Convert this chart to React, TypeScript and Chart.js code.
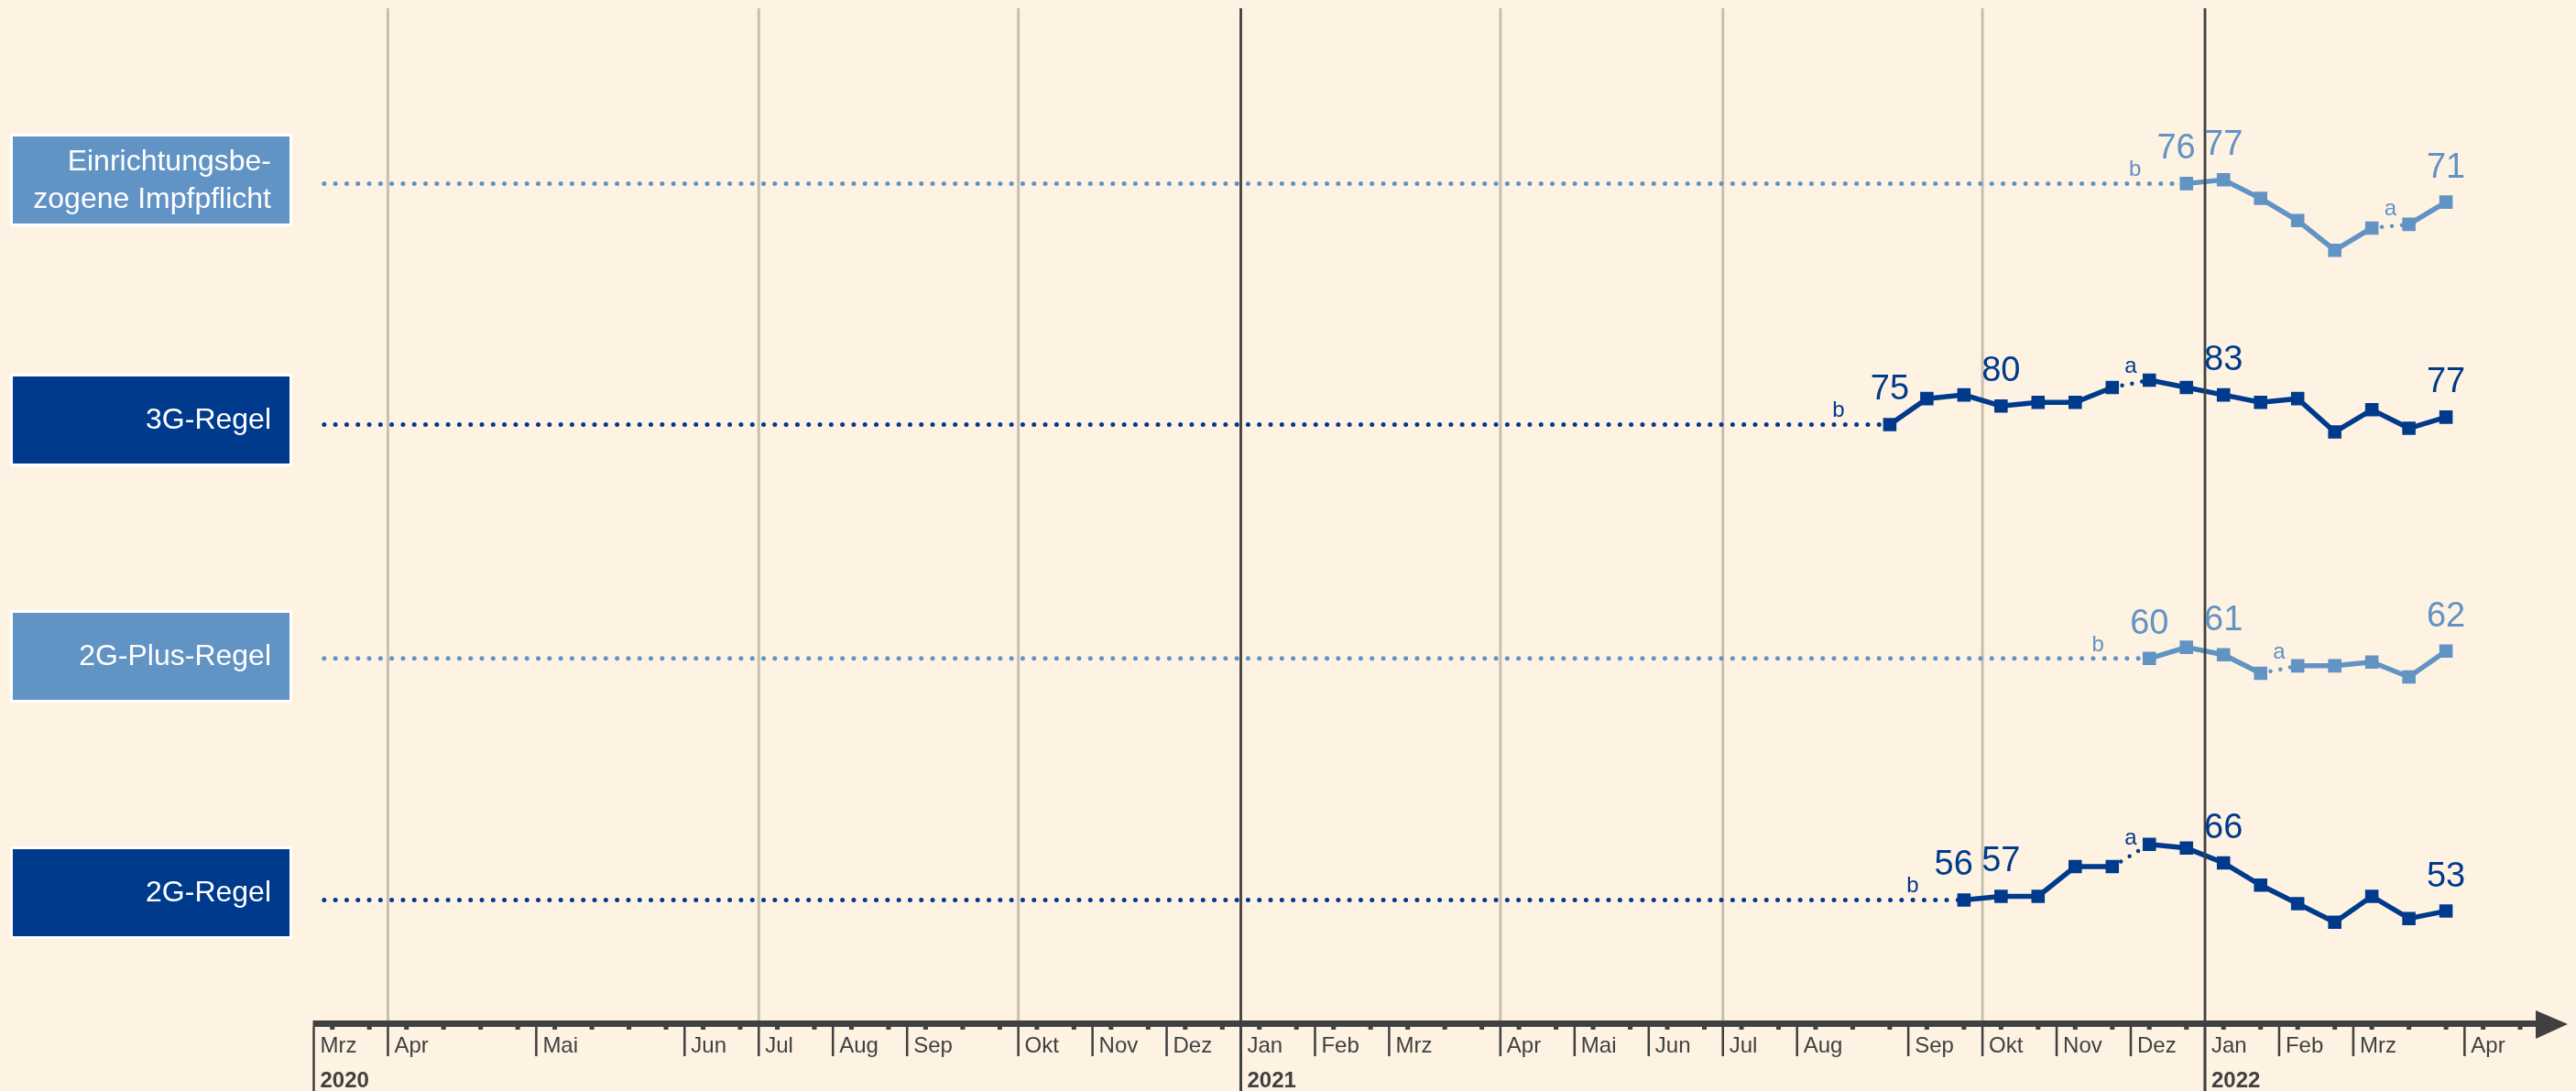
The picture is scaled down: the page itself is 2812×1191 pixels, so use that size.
import React, { useEffect, useRef } from 'react';
import { Chart, registerables } from 'chart.js';

Chart.register(...registerables);

// ---------- data ----------
const monthStarts = [0, 2, 6, 10, 12, 14, 16, 19, 21, 23, 25, 27, 29, 32, 34, 36, 38, 40, 43, 45, 47, 49, 51, 53, 55, 58];
const monthLabels = ['Mrz', 'Apr', 'Mai', 'Jun', 'Jul', 'Aug', 'Sep', 'Okt', 'Nov', 'Dez', 'Jan', 'Feb', 'Mrz', 'Apr', 'Mai', 'Jun', 'Jul', 'Aug', 'Sep', 'Okt', 'Nov', 'Dez', 'Jan', 'Feb', 'Mrz', 'Apr'];
const yearStarts = [0, 25, 51];
const yearLabels = ['2020', '2021', '2022'];
const quarterLines = [2, 12, 19, 32, 38, 45];
const yearLines = [25, 51];

const rowNames = [['Einrichtungsbe-', 'zogene Impfpflicht'], ['3G-Regel'], ['2G-Plus-Regel'], ['2G-Regel']];

const einrichtungWaves = [50.5, 51.5, 52.5, 53.5, 54.5, 55.5, 56.5, 57.5];
const einrichtungValues = [76, 77, 72, 66, 58, 64, 65, 71];
const einrichtungGap = 5;
const einrichtungLabeled = [0, 1, 7];

const regel3GWaves = [42.5, 43.5, 44.5, 45.5, 46.5, 47.5, 48.5, 49.5, 50.5, 51.5, 52.5, 53.5, 54.5, 55.5, 56.5, 57.5];
const regel3GValues = [75, 82, 83, 80, 81, 81, 85, 87, 85, 83, 81, 82, 73, 79, 74, 77];
const regel3GGap = 6;
const regel3GLabeled = [0, 3, 9, 15];

const plus2GWaves = [49.5, 50.5, 51.5, 52.5, 53.5, 54.5, 55.5, 56.5, 57.5];
const plus2GValues = [60, 63, 61, 56, 58, 58, 59, 55, 62];
const plus2GGap = 3;
const plus2GLabeled = [0, 2, 8];

const regel2GWaves = [44.5, 45.5, 46.5, 47.5, 48.5, 49.5, 50.5, 51.5, 52.5, 53.5, 54.5, 55.5, 56.5, 57.5];
const regel2GValues = [56, 57, 57, 65, 65, 71, 70, 66, 60, 55, 50, 57, 51, 53];
const regel2GGap = 4;
const regel2GLabeled = [0, 1, 7, 13];

const leadStart = 0.28;
const gapNote = 'a';
const leadNote = 'b';

// ---------- style / layout ----------
const W = 2812;
const H = 1191;
const BG = '#FEF3E2';
const DARK = '#003A8C';
const LIGHT = '#6193C4';
const AXIS = '#404040';
const GRID = '#C9BFAE';
const FONT = "'Liberation Sans', Arial, sans-serif";

const AREA_LEFT = 342.5;
const PX_PER_UNIT = 40.48;
const X_MAX = 60;
const AREA_TOP = 9;
const AXIS_TOP = 1114;
const AXIS_H = 7;
const PX_PER_PT = 4.05;
const rowAnchorPx = [199.3, 462.7, 718.3, 982.3];
const boxTops = [149, 411, 669, 927];
const BOX_H = 95;
const BOX_X = 14;
const BOX_W = 302;

const series = [
  { x: einrichtungWaves, v: einrichtungValues, gap: einrichtungGap, labeled: einrichtungLabeled, color: LIGHT },
  { x: regel3GWaves, v: regel3GValues, gap: regel3GGap, labeled: regel3GLabeled, color: DARK },
  { x: plus2GWaves, v: plus2GValues, gap: plus2GGap, labeled: plus2GLabeled, color: LIGHT },
  { x: regel2GWaves, v: regel2GValues, gap: regel2GGap, labeled: regel2GLabeled, color: DARK },
];

const decorPlugin = {
  id: 'decor',
  beforeDraw(chart: any) {
    const ctx = chart.ctx;
    ctx.save();
    ctx.fillStyle = BG;
    ctx.fillRect(0, 0, chart.width, chart.height);
    ctx.restore();
  },
  beforeDatasetsDraw(chart: any) {
    const ctx = chart.ctx;
    const xs = chart.scales.x;
    ctx.save();
    ctx.fillStyle = GRID;
    quarterLines.forEach((q) => {
      const px = xs.getPixelForValue(q);
      ctx.fillRect(px - 1.5, AREA_TOP, 3, AXIS_TOP - AREA_TOP);
    });
    rowNames.forEach((lines, r) => {
      const top = boxTops[r];
      ctx.fillStyle = series[r].color;
      ctx.fillRect(BOX_X, top, BOX_W, BOX_H);
      ctx.strokeStyle = '#FFFFFF';
      ctx.lineWidth = 3;
      ctx.strokeRect(BOX_X - 1.5, top - 1.5, BOX_W + 3, BOX_H + 3);
      ctx.fillStyle = '#FFFFFF';
      ctx.font = `32px ${FONT}`;
      ctx.textAlign = 'right';
      ctx.textBaseline = 'middle';
      const cy = top + BOX_H / 2 + 1;
      const lh = 41;
      lines.forEach((t, i) => {
        ctx.fillText(t, BOX_X + 282, cy + (i - (lines.length - 1) / 2) * lh);
      });
    });
    ctx.restore();
  },
  afterDatasetsDraw(chart: any) {
    const ctx = chart.ctx;
    const xs = chart.scales.x;
    ctx.save();
    ctx.fillStyle = AXIS;
    yearLines.forEach((y) => {
      const px = xs.getPixelForValue(y);
      ctx.fillRect(px - 1.4, AREA_TOP, 2.8, H - AREA_TOP);
    });
    const x0 = xs.getPixelForValue(0);
    ctx.fillRect(x0 - 1, AXIS_TOP, 2770 - x0, AXIS_H);
    ctx.beginPath();
    ctx.moveTo(2768, 1103);
    ctx.lineTo(2803, 1118);
    ctx.lineTo(2768, 1134);
    ctx.closePath();
    ctx.fill();
    for (let k = 0; k < 60; k++) {
      const px = xs.getPixelForValue(k + 0.5);
      ctx.fillRect(px - 2.5, AXIS_TOP + AXIS_H, 5, 3);
    }
    monthStarts.forEach((m) => {
      const px = xs.getPixelForValue(m);
      const isYear = yearStarts.includes(m);
      ctx.fillRect(px - 1.25, AXIS_TOP + AXIS_H, 2.5, isYear ? H - AXIS_TOP : 32);
    });
    ctx.font = `24px ${FONT}`;
    ctx.textAlign = 'left';
    ctx.textBaseline = 'alphabetic';
    monthStarts.forEach((m, i) => {
      const px = xs.getPixelForValue(m);
      ctx.fillText(monthLabels[i], px + 7, 1149);
    });
    ctx.font = `bold 24px ${FONT}`;
    yearStarts.forEach((y, i) => {
      const px = xs.getPixelForValue(y);
      ctx.fillText(yearLabels[i], px + 7, 1187);
    });
    series.forEach((s, r) => {
      const meta = chart.getDatasetMeta(r * 2 + 1);
      const pts = meta.data;
      ctx.fillStyle = s.color;
      ctx.font = `38px ${FONT}`;
      ctx.textBaseline = 'alphabetic';
      s.labeled.forEach((idx) => {
        const p = pts[idx];
        if (s.labeled.includes(idx + 1)) {
          ctx.textAlign = 'right';
          ctx.fillText(String(s.v[idx]), p.x + 10, p.y - 27);
        } else {
          ctx.textAlign = 'center';
          ctx.fillText(String(s.v[idx]), p.x, p.y - 27);
        }
      });
      ctx.font = `24px ${FONT}`;
      ctx.textAlign = 'center';
      const first = pts[0];
      ctx.fillText(leadNote, first.x - 56, first.y - 8);
      const a = pts[s.gap];
      const b = pts[s.gap + 1];
      ctx.fillText(gapNote, (a.x + b.x) / 2, (a.y + b.y) / 2 - 12);
    });
    ctx.restore();
  },
};

export default function App() {
  const ref = useRef<HTMLCanvasElement | null>(null);

  useEffect(() => {
    if (!ref.current) return;
    const datasets: any[] = [];
    const scales: any = {
      x: { type: 'linear', min: 0, max: X_MAX, display: false },
    };
    const spanPts = (AXIS_TOP - AREA_TOP) / PX_PER_PT;
    series.forEach((s, r) => {
      const v0 = s.v[0];
      const max = v0 + (rowAnchorPx[r] - AREA_TOP) / PX_PER_PT;
      scales['y' + r] = { type: 'linear', display: false, min: max - spanPts, max };
      datasets.push({
        data: [
          { x: leadStart, y: v0 },
          { x: s.x[0], y: v0 },
        ],
        yAxisID: 'y' + r,
        borderColor: s.color,
        borderWidth: 5,
        borderDash: [0, 12.3],
        borderCapStyle: 'round',
        pointRadius: 0,
        fill: false,
        order: 2,
      });
      const gap = s.gap;
      datasets.push({
        data: s.x.map((x, i) => ({ x, y: s.v[i] })),
        yAxisID: 'y' + r,
        borderColor: s.color,
        backgroundColor: s.color,
        borderWidth: 5.5,
        pointStyle: 'rect',
        pointRadius: 10.3,
        pointBorderWidth: 0,
        pointBackgroundColor: s.color,
        fill: false,
        order: 1,
        segment: {
          borderDash: (c: any) => (c.p0DataIndex === gap ? [0, 11] : undefined),
          borderWidth: (c: any) => (c.p0DataIndex === gap ? 4.5 : undefined),
          borderCapStyle: (c: any) => (c.p0DataIndex === gap ? 'round' : undefined),
        },
      });
    });

    const chart = new Chart(ref.current, {
      type: 'line',
      data: { datasets },
      options: {
        animation: false,
        responsive: false,
        devicePixelRatio: 1,
        layout: {
          padding: {
            left: AREA_LEFT,
            right: W - (AREA_LEFT + X_MAX * PX_PER_UNIT),
            top: AREA_TOP,
            bottom: H - AXIS_TOP,
          },
        },
        scales,
        plugins: { legend: { display: false }, tooltip: { enabled: false } },
        events: [],
      } as any,
      plugins: [decorPlugin as any],
    });
    return () => chart.destroy();
  }, []);

  return (
    <div style={{ position: 'fixed', left: 0, top: 0, width: W, height: H, background: BG }}>
      <canvas ref={ref} width={W} height={H} style={{ display: 'block' }} />
    </div>
  );
}
